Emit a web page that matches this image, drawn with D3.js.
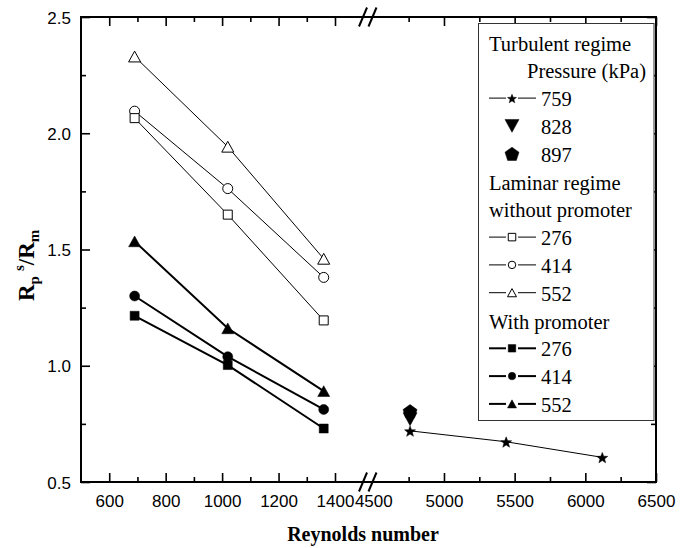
<!DOCTYPE html>
<html>
<head>
<meta charset="utf-8">
<script src="https://cdn.jsdelivr.net/npm/d3@7"></script>
<style>
  body { margin: 0; background: #fff; }
  svg { display: block; }
</style>
</head>
<body>
<svg id="chart" width="691" height="548"></svg>
<script>
// ---------------- data ----------------
const laminarRe = [690, 1020, 1360];
const noProm276 = [2.065, 1.65, 1.195];
const noProm414 = [2.095, 1.762, 1.38];
const noProm552 = [2.33, 1.942, 1.46];
const prom276 = [1.215, 1.003, 0.73];
const prom414 = [1.30, 1.039, 0.812];
const prom552 = [1.535, 1.161, 0.891];

const turbRe759 = [4760, 5440, 6120];
const turb759 = [0.72, 0.673, 0.606];
const turbRe828 = [4760];
const turb828 = [0.77];
const turbRe897 = [4760];
const turb897 = [0.805];

const xTicksLeft = [600, 800, 1000, 1200, 1400];
const xMinorLeft = [700, 900, 1100, 1300];
const xTicksRight = [4500, 5000, 5500, 6000, 6500];
const xMinorRight = [4750, 5250, 5750, 6250];
const yTicks = [0.5, 1.0, 1.5, 2.0, 2.5];
const yMinor = [0.75, 1.25, 1.75, 2.25];

const legendRows = [
  {text: "Turbulent regime", x: 489},
  {text: "Pressure (kPa)", x: 527},
  {text: "759", sym: "star", fill: true, line: "thin"},
  {text: "828", sym: "tridown", fill: true, line: null},
  {text: "897", sym: "pentagon", fill: true, line: null},
  {text: "Laminar regime", x: 489},
  {text: "without promoter", x: 489},
  {text: "276", sym: "square", fill: false, line: "thin"},
  {text: "414", sym: "circle", fill: false, line: "thin"},
  {text: "552", sym: "triangle", fill: false, line: "thin"},
  {text: "With promoter", x: 489},
  {text: "276", sym: "square", fill: true, line: "thick"},
  {text: "414", sym: "circle", fill: true, line: "thick"},
  {text: "552", sym: "triangle", fill: true, line: "thick"}
];

// ---------------- layout ----------------
const L = 81, R = 656, T = 17, B = 482;
const svg = d3.select("#chart");
const xL = d3.scaleLinear().domain([500, 1400]).range([L, 335]);
const xR = d3.scaleLinear().domain([4500, 6500]).range([373.3, R]);
const y = d3.scaleLinear().domain([0.5, 2.5]).range([B, T]);
const xPos = v => v < 3000 ? xL(v) : xR(v);

const SANS = "'Liberation Sans', Arial, Helvetica, sans-serif";
const SERIF = "'Liberation Serif', 'Times New Roman', Times, serif";

function symPath(type, s) {
  const h = s / 2;
  const p = d3.path();
  if (type === "square") {
    p.rect(-h, -h, s, s);
  } else if (type === "circle") {
    p.arc(0, 0, h, 0, 2 * Math.PI);
  } else if (type === "triangle") {
    const hh = s * 0.9 / 2;
    p.moveTo(0, -hh); p.lineTo(h, hh); p.lineTo(-h, hh); p.closePath();
  } else if (type === "tridown") {
    const hh = s * 0.92 / 2;
    p.moveTo(-h, -hh); p.lineTo(h, -hh); p.lineTo(0, hh); p.closePath();
  } else if (type === "pentagon") {
    for (let i = 0; i < 5; i++) {
      const a = -Math.PI / 2 + i * 2 * Math.PI / 5;
      const xx = h * 1.05 * Math.cos(a), yy = h * 1.05 * Math.sin(a) + 0.8;
      if (i === 0) p.moveTo(xx, yy); else p.lineTo(xx, yy);
    }
    p.closePath();
  } else if (type === "star") {
    const ro = h * 1.05, ri = ro * 0.42;
    for (let i = 0; i < 10; i++) {
      const a = -Math.PI / 2 + i * Math.PI / 5;
      const r = i % 2 === 0 ? ro : ri;
      const xx = r * Math.cos(a), yy = r * Math.sin(a) + 0.8;
      if (i === 0) p.moveTo(xx, yy); else p.lineTo(xx, yy);
    }
    p.closePath();
  }
  return p.toString();
}

// ---------------- series ----------------
const series = [
  {xs: laminarRe, ys: noProm276, sym: "square", fill: false, lw: 1, size: 9},
  {xs: laminarRe, ys: noProm414, sym: "circle", fill: false, lw: 1, size: 10},
  {xs: laminarRe, ys: noProm552, sym: "triangle", fill: false, lw: 1, size: 12},
  {xs: laminarRe, ys: prom276, sym: "square", fill: true, lw: 2, size: 9},
  {xs: laminarRe, ys: prom414, sym: "circle", fill: true, lw: 2, size: 10},
  {xs: laminarRe, ys: prom552, sym: "triangle", fill: true, lw: 2, size: 12},
  {xs: turbRe759, ys: turb759, sym: "star", fill: true, lw: 1, size: 11},
  {xs: turbRe828, ys: turb828, sym: "tridown", fill: true, lw: 0, size: 14},
  {xs: turbRe897, ys: turb897, sym: "pentagon", fill: true, lw: 0, size: 14}
];

const line = d3.line().x(d => xPos(d[0])).y(d => y(d[1]));
const gPlot = svg.append("g");
series.forEach(s => {
  const pts = s.xs.map((xv, i) => [xv, s.ys[i]]);
  if (s.lw > 0 && pts.length > 1) {
    gPlot.append("path").attr("d", line(pts))
      .attr("fill", "none").attr("stroke", "#000").attr("stroke-width", s.lw);
  }
});
series.slice().reverse().forEach(s => {
  const pts = s.xs.map((xv, i) => [xv, s.ys[i]]);
  gPlot.selectAll(null).data(pts).enter().append("path")
    .attr("transform", d => `translate(${xPos(d[0])},${y(d[1])})`)
    .attr("d", symPath(s.sym, s.size))
    .attr("fill", s.fill ? "#000" : "#fff")
    .attr("stroke", "#000").attr("stroke-width", s.fill ? 0.5 : 1);
});

// ---------------- axes ----------------
const TICKFS = 17;
function styleAxis(g) {
  g.select(".domain").remove();
  g.selectAll(".tick line").attr("stroke", "#000").attr("stroke-width", 1.6);
  g.selectAll(".tick text").attr("fill", "#000")
    .attr("font-family", SANS).attr("font-size", TICKFS);
}

const gbL = svg.append("g").attr("transform", `translate(0,${B})`)
  .call(d3.axisBottom(xL).tickValues(xTicksLeft).tickSizeInner(-9).tickSizeOuter(0).tickPadding(12.5).tickFormat(d3.format("d")));
styleAxis(gbL);
svg.append("g").attr("transform", `translate(0,${B})`)
  .call(d3.axisBottom(xL).tickValues(xMinorLeft).tickSizeInner(-5).tickSizeOuter(0).tickFormat(""))
  .call(styleAxis);
const gbR = svg.append("g").attr("transform", `translate(0,${B})`)
  .call(d3.axisBottom(xR).tickValues(xTicksRight).tickSizeInner(-9).tickSizeOuter(0).tickPadding(12.5).tickFormat(d3.format("d")));
styleAxis(gbR);
gbR.selectAll(".tick").filter(d => d === 4500).select("line").remove();
svg.append("g").attr("transform", `translate(0,${B})`)
  .call(d3.axisBottom(xR).tickValues(xMinorRight).tickSizeInner(-5).tickSizeOuter(0).tickFormat(""))
  .call(styleAxis);

[[xL, xTicksLeft, 9], [xL, xMinorLeft, 5], [xR, xTicksRight.filter(v => v !== 4500), 9], [xR, xMinorRight, 5]]
  .forEach(([sc, tv, len]) => {
    svg.append("g").attr("transform", `translate(0,${T})`)
      .call(d3.axisTop(sc).tickValues(tv).tickSizeInner(-len).tickSizeOuter(0).tickFormat(""))
      .call(styleAxis);
  });

const gl = svg.append("g").attr("transform", `translate(${L},0)`)
  .call(d3.axisLeft(y).tickValues(yTicks).tickSizeInner(-9).tickSizeOuter(0).tickPadding(10).tickFormat(d3.format(".1f")));
styleAxis(gl);
gl.selectAll(".tick text").attr("dy", "0.36em");
svg.append("g").attr("transform", `translate(${L},0)`)
  .call(d3.axisLeft(y).tickValues(yMinor).tickSizeInner(-5).tickSizeOuter(0).tickFormat(""))
  .call(styleAxis);
svg.append("g").attr("transform", `translate(${R},0)`)
  .call(d3.axisRight(y).tickValues(yTicks).tickSizeInner(-9).tickSizeOuter(0).tickFormat(""))
  .call(styleAxis);
svg.append("g").attr("transform", `translate(${R},0)`)
  .call(d3.axisRight(y).tickValues(yMinor).tickSizeInner(-5).tickSizeOuter(0).tickFormat(""))
  .call(styleAxis);

// frame
const frame = svg.append("g").attr("stroke", "#000").attr("stroke-width", 2).attr("fill", "none");
frame.append("line").attr("x1", L).attr("x2", R).attr("y1", B).attr("y2", B);
frame.append("line").attr("x1", L).attr("x2", R).attr("y1", T).attr("y2", T);
frame.append("line").attr("x1", L).attr("x2", L).attr("y1", T - 1).attr("y2", B + 1);
frame.append("line").attr("x1", R).attr("x2", R).attr("y1", T - 1).attr("y2", B + 1);

[T, B].forEach(yy => {
  [363, 372.5].forEach(cx => {
    frame.append("line").attr("x1", cx - 4).attr("y1", yy + 9.5)
      .attr("x2", cx + 4).attr("y2", yy - 9.5);
  });
});

// axis titles
svg.append("text").attr("x", 363).attr("y", 541)
  .attr("text-anchor", "middle").attr("font-family", SERIF)
  .attr("font-weight", "bold").attr("font-size", 20).attr("fill", "#000")
  .text("Reynolds number");

const yt = svg.append("text")
  .attr("transform", "translate(34,301) rotate(-90)")
  .attr("text-anchor", "start").attr("font-family", SERIF)
  .attr("font-weight", "bold").attr("font-size", 23).attr("fill", "#000");
yt.append("tspan").text("R");
yt.append("tspan").attr("font-size", 15).attr("dy", 5).text("p");
yt.append("tspan").attr("font-size", 15).attr("dy", -15).attr("dx", 5).text("s");
yt.append("tspan").attr("dy", 10).text("/R");
yt.append("tspan").attr("font-size", 15).attr("dy", 5).text("m");

// ---------------- legend ----------------
const lg = svg.append("g");
lg.append("rect").attr("x", 478.5).attr("y", 23.5).attr("width", 175.5).attr("height", 397)
  .attr("fill", "#fff").attr("stroke", "#333").attr("stroke-width", 1);
legendRows.forEach((r, i) => {
  const by = 50.5 + i * 27.8;
  const tx = r.sym ? 541 : r.x;
  lg.append("text").attr("x", tx).attr("y", by)
    .attr("font-family", SERIF).attr("font-size", 20.5).attr("fill", "#000").text(r.text);
  if (r.sym) {
    const cy = by - 8;
    if (r.line) {
      const lw = r.line === "thick" ? 2 : 1;
      lg.append("line").attr("x1", 489).attr("x2", 506).attr("y1", cy).attr("y2", cy)
        .attr("stroke", "#000").attr("stroke-width", lw);
      lg.append("line").attr("x1", 518).attr("x2", 536).attr("y1", cy).attr("y2", cy)
        .attr("stroke", "#000").attr("stroke-width", lw);
    }
    const sz = (r.sym === "tridown" || r.sym === "pentagon") ? 14 : (r.sym === "star" ? 9 : (r.sym === "triangle" ? 9 : 7.5));
    lg.append("path").attr("transform", `translate(512,${cy})`)
      .attr("d", symPath(r.sym, sz))
      .attr("fill", r.fill ? "#000" : "#fff")
      .attr("stroke", "#000").attr("stroke-width", r.fill ? 0.5 : 1);
  }
});
</script>
</body>
</html>
